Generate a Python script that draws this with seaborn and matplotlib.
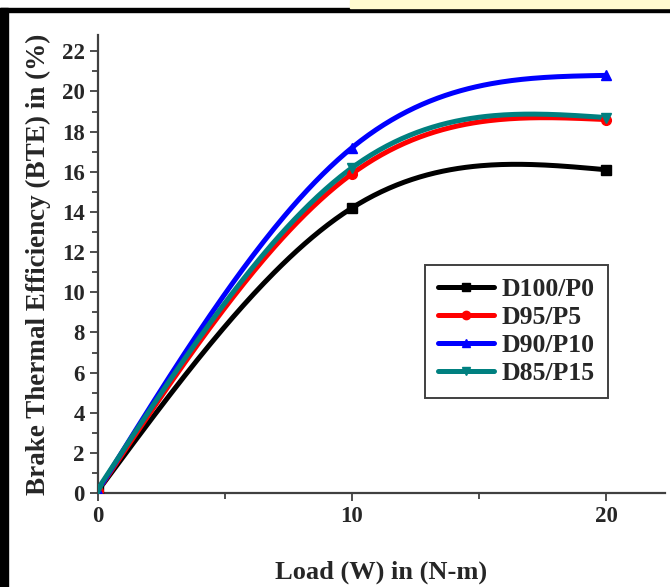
import numpy as np
import pandas as pd
import matplotlib
matplotlib.use("Agg")
import matplotlib.pyplot as plt
from matplotlib.lines import Line2D
from matplotlib.patches import Rectangle
from matplotlib.ticker import MultipleLocator
import seaborn as sns

# data
load = [0, 10, 20]
blends = ["D100/P0", "D95/P5", "D90/P10", "D85/P15"]
bte_d100 = [0.1, 14.2, 16.1]
bte_d95 = [0.1, 15.9, 18.6]
bte_d90 = [0.1, 17.2, 20.8]
bte_d85 = [0.2, 16.2, 18.7]

colors = ["#000000", "#ff0000", "#0000ff", "#008080"]
markers = ["s", "o", "^", "v"]


def natural_spline(x, y, xs):
    """Natural cubic spline through (x, y), evaluated at xs."""
    x = np.asarray(x, float)
    y = np.asarray(y, float)
    n = len(x)
    h = np.diff(x)
    A = np.zeros((n, n))
    r = np.zeros(n)
    A[0, 0] = A[-1, -1] = 1
    for i in range(1, n - 1):
        A[i, i - 1] = h[i - 1]
        A[i, i] = 2 * (h[i - 1] + h[i])
        A[i, i + 1] = h[i]
        r[i] = 6 * ((y[i + 1] - y[i]) / h[i] - (y[i] - y[i - 1]) / h[i - 1])
    M = np.linalg.solve(A, r)
    out = np.empty_like(xs)
    for j, xv in enumerate(xs):
        i = min(np.searchsorted(x, xv, side="right") - 1, n - 2)
        i = max(i, 0)
        a, b = x[i + 1] - xv, xv - x[i]
        out[j] = (M[i] * a**3 + M[i + 1] * b**3) / (6 * h[i]) \
            + (y[i] / h[i] - M[i] * h[i] / 6) * a \
            + (y[i + 1] / h[i] - M[i + 1] * h[i] / 6) * b
    return out


series = [bte_d100, bte_d95, bte_d90, bte_d85]
xs = np.linspace(0, 20, 200)
curves = pd.concat([
    pd.DataFrame({"load": xs, "bte": natural_spline(load, vals, xs), "blend": name})
    for name, vals in zip(blends, series)
])
points = pd.concat([
    pd.DataFrame({"load": load, "bte": vals, "blend": name})
    for name, vals in zip(blends, series)
])

sns.set_style("ticks")
plt.rcParams["font.family"] = ["Liberation Serif", "DejaVu Serif"]
plt.rcParams["font.weight"] = "bold"

fig = plt.figure(figsize=(6.7, 5.87), dpi=100)
ax = fig.add_axes([0.146, 0.160, 0.846, 0.780])

palette = dict(zip(blends, colors))
sns.lineplot(data=curves, x="load", y="bte", hue="blend", palette=palette,
             linewidth=3.6, sort=False, estimator=None, legend=False, ax=ax)
for name, c, m in zip(blends, colors, markers):
    sub = points[points["blend"] == name]
    ax.plot(sub["load"], sub["bte"], linestyle="none", marker=m, color=c,
            markersize=7, zorder=3)

ax.set_xlim(0, 22.3)
ax.set_ylim(0, 22.8)
ax.xaxis.set_major_locator(MultipleLocator(10))
ax.xaxis.set_minor_locator(MultipleLocator(5))
ax.yaxis.set_major_locator(MultipleLocator(2))
ax.yaxis.set_minor_locator(MultipleLocator(1))
ax.tick_params(which="major", length=6, width=1.3, color="#404040",
               labelsize=16.5, direction="out")
ax.tick_params(which="minor", length=4, width=1.3, color="#404040",
               direction="out")
for lab in ax.get_xticklabels() + ax.get_yticklabels():
    lab.set_fontweight("bold")
sns.despine(ax=ax)
for side in ["left", "bottom"]:
    ax.spines[side].set_color("#404040")
    ax.spines[side].set_linewidth(1.6)

ax.set_xlabel("Load (W) in (N-m)", fontsize=19, fontweight="bold", labelpad=24)
ax.set_ylabel("Brake Thermal Efficiency (BTE) in (%)", fontsize=19.5,
              fontweight="bold", labelpad=8)

handles = [Line2D([], [], color=c, marker=m, markersize=6, linewidth=3.6)
           for c, m in zip(colors, markers)]
leg = ax.legend(handles, blends, loc="upper left", bbox_to_anchor=(0.577, 0.498),
                borderaxespad=0, handlelength=2.2, labelspacing=0.2,
                handletextpad=0.3, borderpad=0.5, fancybox=False, framealpha=1,
                edgecolor="#404040", prop={"weight": "bold", "size": 18.5})
leg.get_frame().set_linewidth(1.4)

# page frame and the yellow strip at the top
fig.patches.append(Rectangle((0, 0), 8 / 670, 1 - 8 / 587, transform=fig.transFigure,
                             color="black", zorder=0))
fig.patches.append(Rectangle((0, 1 - 12 / 587), 1, 4 / 587, transform=fig.transFigure,
                             color="black", zorder=0))
fig.patches.append(Rectangle((350 / 670, 1 - 8 / 587), 1, 8 / 587,
                             transform=fig.transFigure, color="#fffbd0", zorder=0))

fig.savefig("out.png", dpi=100)
